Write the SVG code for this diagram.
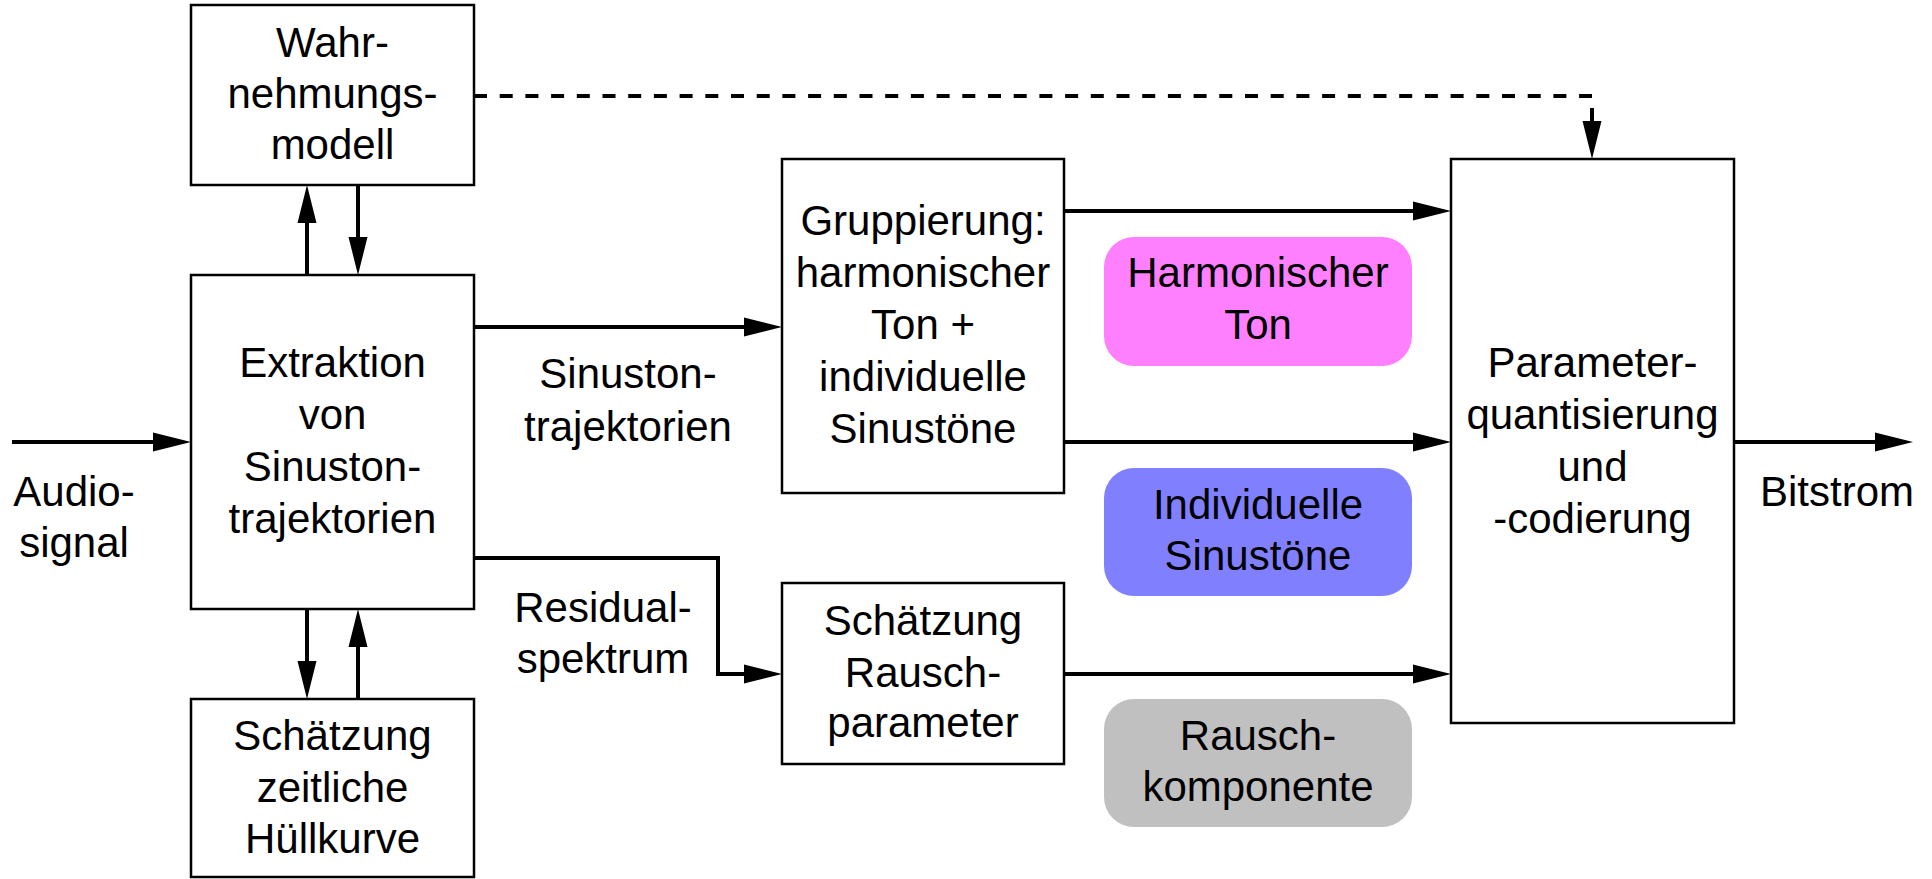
<svg xmlns="http://www.w3.org/2000/svg" width="1932" height="879" viewBox="0 0 1932 879">
<style>
.box{fill:#fff;stroke:#000;stroke-width:2.5}
.pill{stroke:none}
.t{font-family:"Liberation Sans",Arial,sans-serif;font-size:42px;fill:#000;text-anchor:middle}
.c{fill:none;stroke:#000;stroke-width:4}
.d{fill:none;stroke:#000;stroke-width:4;stroke-dasharray:13 12.7}
</style>
<defs>
<marker id="ah" markerUnits="userSpaceOnUse" markerWidth="40" markerHeight="20" refX="2" refY="9.5" orient="auto" overflow="visible">
<path d="M0,0 L38,9.5 L0,19 z" fill="#000"/>
</marker>
</defs>
<rect width="1932" height="879" fill="#fff"/>

<g id="wahrnehmung">
<rect class="box" x="191" y="5" width="283" height="180"/>
<text class="t" x="332.5" y="57">Wahr-</text>
<text class="t" x="332.5" y="108">nehmungs-</text>
<text class="t" x="332.5" y="159">modell</text>
</g>

<g id="extraktion">
<rect class="box" x="191" y="275" width="283" height="334"/>
<text class="t" x="332.5" y="377">Extraktion</text>
<text class="t" x="332.5" y="429">von</text>
<text class="t" x="332.5" y="481">Sinuston-</text>
<text class="t" x="332.5" y="533">trajektorien</text>
</g>

<g id="huellkurve">
<rect class="box" x="191" y="699" width="283" height="178"/>
<text class="t" x="332.5" y="750">Schätzung</text>
<text class="t" x="332.5" y="802">zeitliche</text>
<text class="t" x="332.5" y="853">Hüllkurve</text>
</g>

<g id="gruppierung">
<rect class="box" x="782" y="159" width="282" height="334"/>
<text class="t" x="923" y="235">Gruppierung:</text>
<text class="t" x="923" y="287">harmonischer</text>
<text class="t" x="923" y="339">Ton +</text>
<text class="t" x="923" y="391">individuelle</text>
<text class="t" x="923" y="443">Sinustöne</text>
</g>

<g id="rauschparameter">
<rect class="box" x="782" y="583" width="282" height="181"/>
<text class="t" x="923" y="635">Schätzung</text>
<text class="t" x="923" y="687">Rausch-</text>
<text class="t" x="923" y="737">parameter</text>
</g>

<g id="harmonischer-ton">
<rect class="pill" x="1104" y="237" width="308" height="129" rx="30" fill="#ff80ff"/>
<text class="t" x="1258" y="287">Harmonischer</text>
<text class="t" x="1258" y="339">Ton</text>
</g>

<g id="individuelle-sinustoene">
<rect class="pill" x="1104" y="468" width="308" height="128" rx="30" fill="#8080ff"/>
<text class="t" x="1258" y="519">Individuelle</text>
<text class="t" x="1258" y="570">Sinustöne</text>
</g>

<g id="rauschkomponente">
<rect class="pill" x="1104" y="699" width="308" height="128" rx="30" fill="#c0c0c0"/>
<text class="t" x="1258" y="750">Rausch-</text>
<text class="t" x="1258" y="801">komponente</text>
</g>

<g id="parameter">
<rect class="box" x="1451" y="159" width="283" height="564"/>
<text class="t" x="1592.5" y="377">Parameter-</text>
<text class="t" x="1592.5" y="429">quantisierung</text>
<text class="t" x="1592.5" y="481">und</text>
<text class="t" x="1592.5" y="533">-codierung</text>
</g>

<g id="labels">
<text class="t" x="74" y="506">Audio-</text>
<text class="t" x="74" y="557">signal</text>
<text class="t" x="628" y="388">Sinuston-</text>
<text class="t" x="628" y="441">trajektorien</text>
<text class="t" x="603" y="622">Residual-</text>
<text class="t" x="603" y="673">spektrum</text>
<text class="t" x="1837" y="506">Bitstrom</text>
</g>

<g id="connectors">
<path class="c" d="M12,442 H155" marker-end="url(#ah)"/>
<path class="c" d="M474,327 H746" marker-end="url(#ah)"/>
<path class="c" d="M474,558 H718 V674 H746" marker-end="url(#ah)"/>
<path class="c" d="M1064,211 H1415" marker-end="url(#ah)"/>
<path class="c" d="M1064,442 H1415" marker-end="url(#ah)"/>
<path class="c" d="M1064,674 H1415" marker-end="url(#ah)"/>
<path class="c" d="M1734,442 H1877" marker-end="url(#ah)"/>
<path class="c" d="M358,185 V239" marker-end="url(#ah)"/>
<path class="c" d="M307,275 V221" marker-end="url(#ah)"/>
<path class="c" d="M307,609 V663" marker-end="url(#ah)"/>
<path class="c" d="M358,699 V645" marker-end="url(#ah)"/>
<path class="d" d="M474,96 H1592"/>
<path class="c" d="M1592,108 V123" marker-end="url(#ah)"/>
</g>
</svg>
